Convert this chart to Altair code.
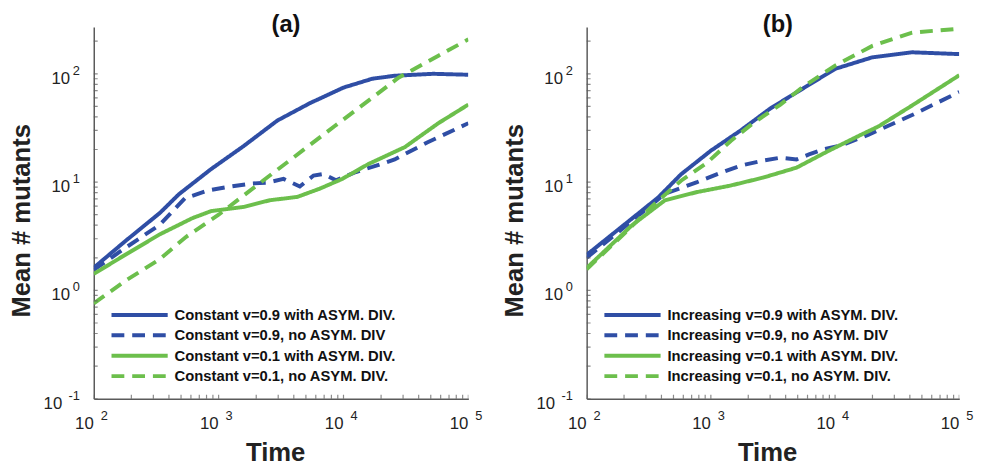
import altair as alt
import pandas as pd

FONT = "Liberation Sans"
BLUE = "#2f4ea5"
GREEN = "#6cbf4c"
AXIS_GREY = "#5a5a5a"

# ---------------- Panel (a): constant v ----------------
A_NAMES = [
    "Constant v=0.9 with ASYM. DIV.",
    "Constant v=0.9, no ASYM. DIV",
    "Constant v=0.1 with ASYM. DIV.",
    "Constant v=0.1, no ASYM. DIV.",
]
A_T1 = [100, 182, 339, 479, 871, 1585, 2951, 5370, 10000, 16982, 25704, 52481, 100000]
A_V1 = [1.62, 2.9, 5.2, 7.7, 13.2, 21.5, 37, 53.5, 74.6, 90, 96, 100, 98]
A_T2 = [100, 182, 339, 537, 832, 1175, 1820, 2455, 3311, 4467, 5754, 6918, 8710,
        12589, 16982, 25704, 46774, 100000]
A_V2 = [1.55, 2.5, 4.05, 7.1, 8.4, 9.0, 9.7, 9.9, 10.7, 9.1, 11.5, 11.9, 10.4,
        12.4, 13.8, 16.2, 23.2, 35]
A_T3 = [100, 182, 339, 617, 871, 1585, 2570, 4266, 6457, 9772, 15849, 30903, 57544, 100000]
A_V3 = [1.42, 2.16, 3.3, 4.65, 5.4, 5.9, 6.8, 7.3, 8.7, 10.7, 14.7, 21, 35, 52]
A_T4 = [100, 182, 339, 550, 1000, 2042, 3715, 8511, 16982, 27542, 57544, 100000]
A_V4 = [0.76, 1.24, 1.95, 3.13, 5.0, 9.4, 15.9, 33, 60, 92, 147, 208]

# ---------------- Panel (b): increasing v ----------------
B_NAMES = [
    "Increasing v=0.9 with ASYM. DIV.",
    "Increasing v=0.9, no ASYM. DIV",
    "Increasing v=0.1 with ASYM. DIV.",
    "Increasing v=0.1, no ASYM. DIV.",
]
B_T1 = [100, 204, 376, 575, 1000, 1738, 3020, 5495, 10000, 19953, 41687, 100000]
B_V1 = [2.13, 4.1, 7.2, 11.8, 19.5, 30, 48, 73, 111, 142, 158, 152]
B_T2 = [100, 204, 427, 776, 1202, 1738, 2630, 3631, 4898, 6166, 7943, 11482, 18621,
        41687, 100000]
B_V2 = [2.0, 3.9, 7.8, 10, 12.2, 14.2, 15.8, 16.8, 16.2, 18, 20, 22, 27.4, 41.6, 68]
B_T3 = [100, 232, 427, 776, 1445, 2630, 4898, 8913, 16218, 22387, 41687, 100000]
B_V3 = [1.61, 4.0, 6.8, 8.1, 9.3, 11, 13.6, 19.5, 27.4, 32.7, 51, 97]
B_T4 = [100, 204, 331, 575, 933, 1445, 2188, 3631, 5495, 10000, 19953, 41687, 100000]
B_V4 = [1.57, 3.4, 5.9, 10.3, 15.1, 24, 35, 52, 75.5, 119, 181, 240, 261]

# ---------------- Axes ----------------
X_DOMAIN = [100, 100000]
Y_DOMAIN = [0.1, 270]
X_LABEL_VALUES = [100, 1000, 10000, 100000]
X_LABEL_EXPS = ["2", "3", "4", "5"]
Y_LABEL_VALUES = [0.1, 1, 10, 100]
Y_LABEL_EXPS = ["-1", "0", "1", "2"]
X_TICKS = [m * 10 ** e for e in range(2, 5) for m in range(1, 10)] + [100000]
Y_TICKS = [m * 10.0 ** e for e in range(-1, 3) for m in range(1, 10) if m * 10.0 ** e <= 270]

COLORS = [BLUE, BLUE, GREEN, GREEN]
DASHES = [[1, 0], [13, 8], [1, 0], [13, 8]]


def panel(names, ts, vs, title, w):
    rows = []
    for name, t_list, v_list in zip(names, ts, vs):
        for t, v in zip(t_list, v_list):
            rows.append({"series": name, "t": t, "v": v})
    df = pd.DataFrame(rows)

    xs = alt.Scale(type="log", domain=X_DOMAIN, nice=False)
    ys = alt.Scale(type="log", domain=Y_DOMAIN, nice=False)
    xa = alt.Axis(title="Time", labels=False, ticks=False, grid=False,
                  titlePadding=42, titleX=w / 2 - 6)
    ya = alt.Axis(title="Mean # mutants", labels=False, ticks=False, grid=False,
                  titlePadding=60, titleY=196)

    leg = alt.Legend(
        title=None, orient="none", legendX=16, legendY=283,
        symbolType="stroke", symbolSize=3249, symbolStrokeWidth=4,
        clipHeight=18, rowPadding=2.7, padding=0,
        labelFont=FONT, labelFontSize=15, labelFontWeight="bold",
        labelColor="#111", labelOffset=5, labelLimit=500,
    )

    lines = alt.Chart(df).mark_line(strokeWidth=4, clip=True).encode(
        x=alt.X("t:Q", scale=xs, axis=xa, title="Time"),
        y=alt.Y("v:Q", scale=ys, axis=ya, title="Mean # mutants"),
        color=alt.Color("series:N", scale=alt.Scale(domain=names, range=COLORS), legend=leg),
        strokeDash=alt.StrokeDash("series:N", scale=alt.Scale(domain=names, range=DASHES), legend=leg),
    )

    def X(field):
        return alt.X(field, scale=xs, axis=xa, title="Time")

    def Y(field):
        return alt.Y(field, scale=ys, axis=ya, title="Mean # mutants")

    xd = alt.XDatum(100, scale=xs, axis=xa, title="Time", type="quantitative")
    yd = alt.YDatum(0.1, scale=ys, axis=ya, title="Mean # mutants", type="quantitative")

    ytick = alt.Chart(pd.DataFrame({"v": Y_TICKS})).mark_tick(
        orient="horizontal", clip=True, color=AXIS_GREY, thickness=1.2, size=8
    ).encode(x=xd, y=Y("v:Q"))
    xtick = alt.Chart(pd.DataFrame({"t": X_TICKS})).mark_tick(
        orient="vertical", clip=True, color=AXIS_GREY, thickness=1.2, size=8
    ).encode(x=X("t:Q"), y=yd)

    xl = pd.DataFrame({"t": X_LABEL_VALUES, "e": X_LABEL_EXPS})
    x10 = alt.Chart(xl).mark_text(
        align="right", baseline="middle", dy=26, fontSize=17, font=FONT, color="#222"
    ).encode(x=X("t:Q"), y=yd, text=alt.value("10"))
    xexp = alt.Chart(xl).mark_text(
        align="left", baseline="middle", dx=7, dy=18, fontSize=13, font=FONT, color="#222"
    ).encode(x=X("t:Q"), y=yd, text="e:N")

    yl = pd.DataFrame({"v": Y_LABEL_VALUES, "e": Y_LABEL_EXPS})
    y10a = alt.Chart(yl).transform_filter("datum.e != '-1'").mark_text(
        align="right", baseline="middle", dx=-24, dy=5, fontSize=17, font=FONT, color="#222"
    ).encode(x=xd, y=Y("v:Q"), text=alt.value("10"))
    y10b = alt.Chart(yl).transform_filter("datum.e == '-1'").mark_text(
        align="right", baseline="middle", dx=-32, dy=5, fontSize=17, font=FONT, color="#222"
    ).encode(x=xd, y=Y("v:Q"), text=alt.value("10"))
    yexp = alt.Chart(yl).mark_text(
        align="right", baseline="middle", dx=-14, dy=-3, fontSize=13, font=FONT, color="#222"
    ).encode(x=xd, y=Y("v:Q"), text="e:N")

    # panel letter, placed over the top of the plot area like the original
    head = alt.Chart(pd.DataFrame({"label": [title]})).mark_text(
        align="center", baseline="alphabetic", fontSize=24, fontWeight="bold",
        font=FONT, color="#111",
    ).encode(x=alt.value(w / 2 + 5), y=alt.value(5), text="label:N")

    return alt.layer(lines, ytick, xtick, x10, xexp, y10a, y10b, yexp, head).properties(
        width=w, height=377,
    )


pa = panel(A_NAMES, [A_T1, A_T2, A_T3, A_T4], [A_V1, A_V2, A_V3, A_V4], "(a)", 380)
pb = panel(B_NAMES, [B_T1, B_T2, B_T3, B_T4], [B_V1, B_V2, B_V3, B_V4], "(b)", 378)

chart = alt.hconcat(pa, pb, spacing=120, bounds="flush").resolve_scale(
    color="independent", strokeDash="independent"
).resolve_legend(
    color="independent", strokeDash="independent"
).configure_view(stroke=None).configure_axis(
    domainColor=AXIS_GREY, domainWidth=1.5, titleFont=FONT, titleFontSize=26,
    titleFontWeight="bold", titleColor="#222", grid=False,
).properties(padding={"left": 1, "top": 2, "right": 5, "bottom": 5})

chart.save("out.html", embed_options={"renderer": "svg", "actions": False})
